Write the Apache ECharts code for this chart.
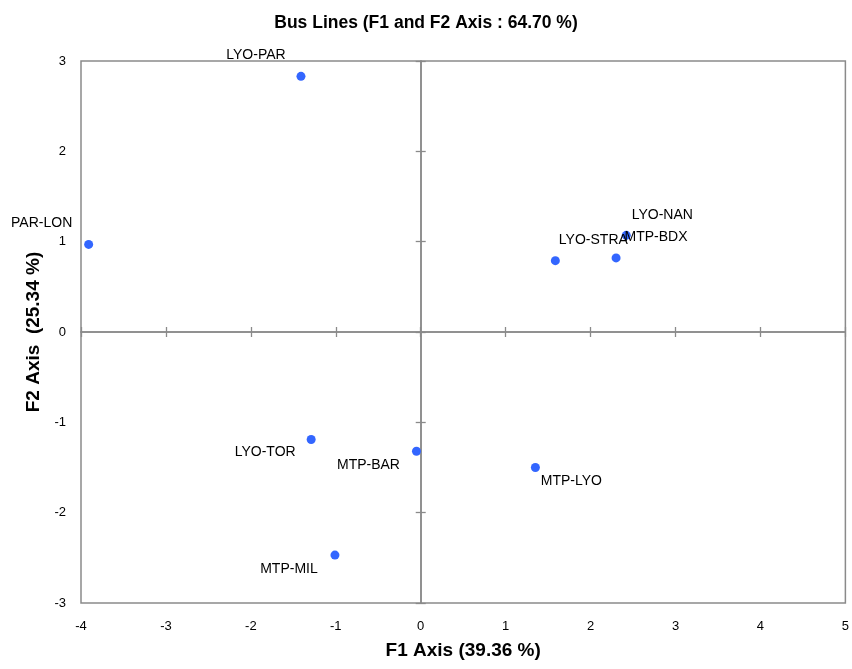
<!DOCTYPE html>
<html><head><meta charset="utf-8">
<script src="https://cdn.jsdelivr.net/npm/echarts@6/dist/echarts.min.js"></script>
<style>html,body{margin:0;padding:0;background:#fff}#c{width:852px;height:669px}</style>
</head><body><div id="c"></div>
<script>
// Data
const names = ['LYO-PAR','PAR-LON','LYO-NAN','MTP-BDX','LYO-STRA','LYO-TOR','MTP-BAR','MTP-LYO','MTP-MIL'];
const f1 = [-1.41, -3.91, 2.42, 2.30, 1.585, -1.29, -0.05, 1.35, -1.01];
const f2 = [2.83, 0.97, 1.07, 0.82, 0.79, -1.19, -1.32, -1.50, -2.47];
const xTicks = [-4,-3,-2,-1,0,1,2,3,4,5];
const yTicks = [-3,-2,-1,0,1,2,3];

// Label placement (style, not data)
const labelOffsets = {
  'LYO-PAR':[-45,-21],'PAR-LON':[-47,-21],'LYO-NAN':[36,-20],'MTP-BDX':[40,-21],
  'LYO-STRA':[38,-20],'LYO-TOR':[-46,13],'MTP-BAR':[-48,14],'MTP-LYO':[36,14],'MTP-MIL':[-46,14]
};

const chart = echarts.init(document.getElementById('c'));
const gray = '#8a8a8a';
const font = 'Liberation Sans';
const pts = names.map((n,i)=>({
  value:[f1[i], f2[i]], name:n,
  label:{offset: labelOffsets[n]}
}));
const zeroX = (inside)=>({
  type:'value', position:'bottom', min:xTicks[0], max:xTicks[xTicks.length-1], interval:1,
  axisLine:{show:true, onZero:true, lineStyle:{color:gray, width:1.5}},
  axisTick:{show:true, inside:inside, length:5, lineStyle:{color:gray, width:1.3}},
  axisLabel:{show:false}, splitLine:{show:false}
});
const zeroY = (inside)=>({
  type:'value', position:'left', min:yTicks[0], max:yTicks[yTicks.length-1], interval:1,
  axisLine:{show:true, onZero:true, lineStyle:{color:gray, width:1.5}},
  axisTick:{show:true, inside:inside, length:5, lineStyle:{color:gray, width:1.3}},
  axisLabel:{show:false}, splitLine:{show:false}
});
chart.setOption({
  animation:false,
  title:{text:'Bus Lines (F1 and F2 Axis : 64.70 %)', left:'center', top:9,
    textStyle:{fontFamily:font, fontWeight:'bold', fontSize:17.5, color:'#000'}},
  grid:{left:81, right:6, top:61, bottom:66, show:true, borderColor:gray, borderWidth:1.5},
  xAxis:[
    {type:'value', position:'bottom', min:xTicks[0], max:xTicks[xTicks.length-1], interval:1,
     axisLine:{show:false, onZero:false}, axisTick:{show:false}, splitLine:{show:false},
     axisLabel:{fontFamily:font, fontSize:13, color:'#000', margin:17},
     name:'F1 Axis (39.36 %)', nameLocation:'middle', nameGap:38,
     nameTextStyle:{fontFamily:font, fontWeight:'bold', fontSize:19, color:'#000'}},
    zeroX(true), zeroX(false)
  ],
  yAxis:[
    {type:'value', position:'left', min:yTicks[0], max:yTicks[yTicks.length-1], interval:1,
     axisLine:{show:false, onZero:false}, axisTick:{show:false}, splitLine:{show:false},
     axisLabel:{fontFamily:font, fontSize:13, color:'#000', margin:15},
     name:'F2 Axis  (25.34 %)', nameLocation:'middle', nameGap:36,
     nameTextStyle:{fontFamily:font, fontWeight:'bold', fontSize:19, color:'#000'}},
    zeroY(true), zeroY(false)
  ],
  series:[{
    type:'scatter', xAxisIndex:0, yAxisIndex:0, symbolSize:9,
    itemStyle:{color:'#3366ff', opacity:1},
    label:{show:true, position:'inside', formatter:'{b}', fontFamily:font, fontSize:14, color:'#000'},
    data:pts
  }]
});
</script></body></html>
